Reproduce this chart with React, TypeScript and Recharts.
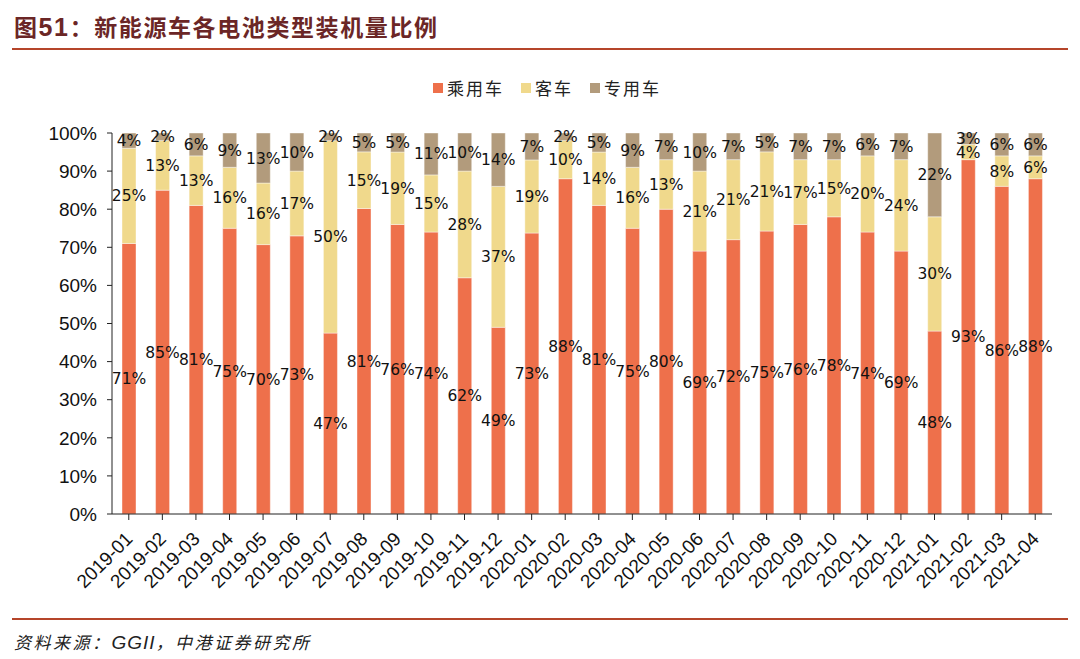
import React from "react";
import { BarChart, Bar, XAxis, YAxis, LabelList } from "recharts";

const MONTHS = [
  "2019-01", "2019-02", "2019-03", "2019-04", "2019-05", "2019-06", "2019-07",
  "2019-08", "2019-09", "2019-10", "2019-11", "2019-12", "2020-01", "2020-02",
  "2020-03", "2020-04", "2020-05", "2020-06", "2020-07", "2020-08", "2020-09",
  "2020-10", "2020-11", "2020-12", "2021-01", "2021-02", "2021-03", "2021-04",
];
// 乘用车
const PASSENGER = [71, 85, 81, 75, 70, 73, 47, 81, 76, 74, 62, 49, 73, 88, 81, 75, 80, 69, 72, 75, 76, 78, 74, 69, 48, 93, 86, 88];
// 客车
const BUS = [25, 13, 13, 16, 16, 17, 50, 15, 19, 15, 28, 37, 19, 10, 14, 16, 13, 21, 21, 21, 17, 15, 20, 24, 30, 4, 8, 6];
// 专用车
const SPECIAL = [4, 2, 6, 9, 13, 10, 2, 5, 5, 11, 10, 14, 7, 2, 5, 9, 7, 10, 7, 5, 7, 7, 6, 7, 22, 3, 6, 6];
const Y_TICKS = [0, 0.1, 0.2, 0.3, 0.4, 0.5, 0.6, 0.7, 0.8, 0.9, 1];

const SERIES = [
  { key: "passenger", name: "乘用车", color: "#EE704B" },
  { key: "bus", name: "客车", color: "#F0D98C" },
  { key: "special", name: "专用车", color: "#B29B7C" },
];
const NUM_FONT = "'Liberation Sans', Arial, sans-serif";
const CJK_FONT = "'Noto Sans CJK SC', sans-serif";

const data = MONTHS.map((m, i) => ({
  m,
  passenger: PASSENGER[i],
  bus: BUS[i],
  special: SPECIAL[i],
}));

const pct = (v: any) => `${v}%`;

function XTick({ x, y, payload }: any) {
  const tx = x + 5;
  const ty = y + 18;
  return (
    <text
      x={tx}
      y={ty}
      transform={`rotate(-45 ${tx} ${ty})`}
      textAnchor="end"
      fontSize={19}
      fontFamily={NUM_FONT}
      fill="#111"
    >
      {payload.value}
    </text>
  );
}

const labelStyle = { fontSize: 15.5, fontFamily: "'DejaVu Sans', sans-serif", fill: "#111" };

export default function App() {
  return (
    <div style={{ position: "absolute", left: 0, top: 0, width: 1080, height: 659, background: "#fff" }}>
      <div
        style={{
          position: "absolute",
          left: 14,
          top: 9,
          fontSize: 23,
          fontWeight: "bold",
          color: "#6B2626",
          fontFamily: CJK_FONT,
          letterSpacing: 1.6,
          whiteSpace: "nowrap",
        }}
      >
        图<span style={{ fontFamily: NUM_FONT, fontSize: 25 }}>51</span>：新能源车各电池类型装机量比例
      </div>
      <div style={{ position: "absolute", left: 12, top: 48, width: 1056, height: 2, background: "#B5452A" }} />
      <div
        style={{
          position: "absolute",
          left: 433,
          top: 75,
          display: "flex",
          alignItems: "center",
          fontFamily: CJK_FONT,
          fontSize: 17,
          color: "#222",
          whiteSpace: "nowrap",
        }}
      >
        {SERIES.map((s) => (
          <span key={s.key} style={{ display: "flex", alignItems: "center", marginRight: 17 }}>
            <span style={{ width: 10, height: 10, background: s.color, marginRight: 4 }} />
            <span style={{ letterSpacing: 2 }}>{s.name}</span>
          </span>
        ))}
      </div>
      <BarChart
        width={1080}
        height={659}
        data={data}
        stackOffset="expand"
        barSize={14}
        margin={{ top: 133, right: 28, left: 0, bottom: 45 }}
      >
        <XAxis
          dataKey="m"
          height={100}
          interval={0}
          tick={<XTick />}
          tickSize={6}
          axisLine={{ stroke: "#222" }}
          tickLine={{ stroke: "#222" }}
        />
        <YAxis
          width={112}
          domain={[0, 1]}
          ticks={Y_TICKS}
          tickFormatter={(v: number) => `${Math.round(v * 100)}%`}
          tick={{ fontSize: 19, fontFamily: NUM_FONT, fill: "#111" }}
          tickSize={5}
          tickMargin={10}
          axisLine={{ stroke: "#222" }}
          tickLine={{ stroke: "#222" }}
        />
        {SERIES.map((s) => (
          <Bar
            key={s.key}
            dataKey={s.key}
            name={s.name}
            stackId="a"
            fill={s.color}
            stroke="#fff"
            strokeOpacity={0.4}
            isAnimationActive={false}
          >
            <LabelList dataKey={s.key} position="center" formatter={pct} style={labelStyle} />
          </Bar>
        ))}
      </BarChart>
      <div style={{ position: "absolute", left: 12, top: 618, width: 1056, height: 2, background: "#B5452A" }} />
      <div
        style={{
          position: "absolute",
          left: 14,
          top: 629,
          fontSize: 17,
          fontStyle: "italic",
          color: "#222",
          fontFamily: CJK_FONT,
          letterSpacing: 2.5,
          whiteSpace: "nowrap",
        }}
      >
        资料来源：<span style={{ fontFamily: NUM_FONT, fontSize: 19, letterSpacing: 1 }}>GGII</span>，中港证券研究所
      </div>
    </div>
  );
}
